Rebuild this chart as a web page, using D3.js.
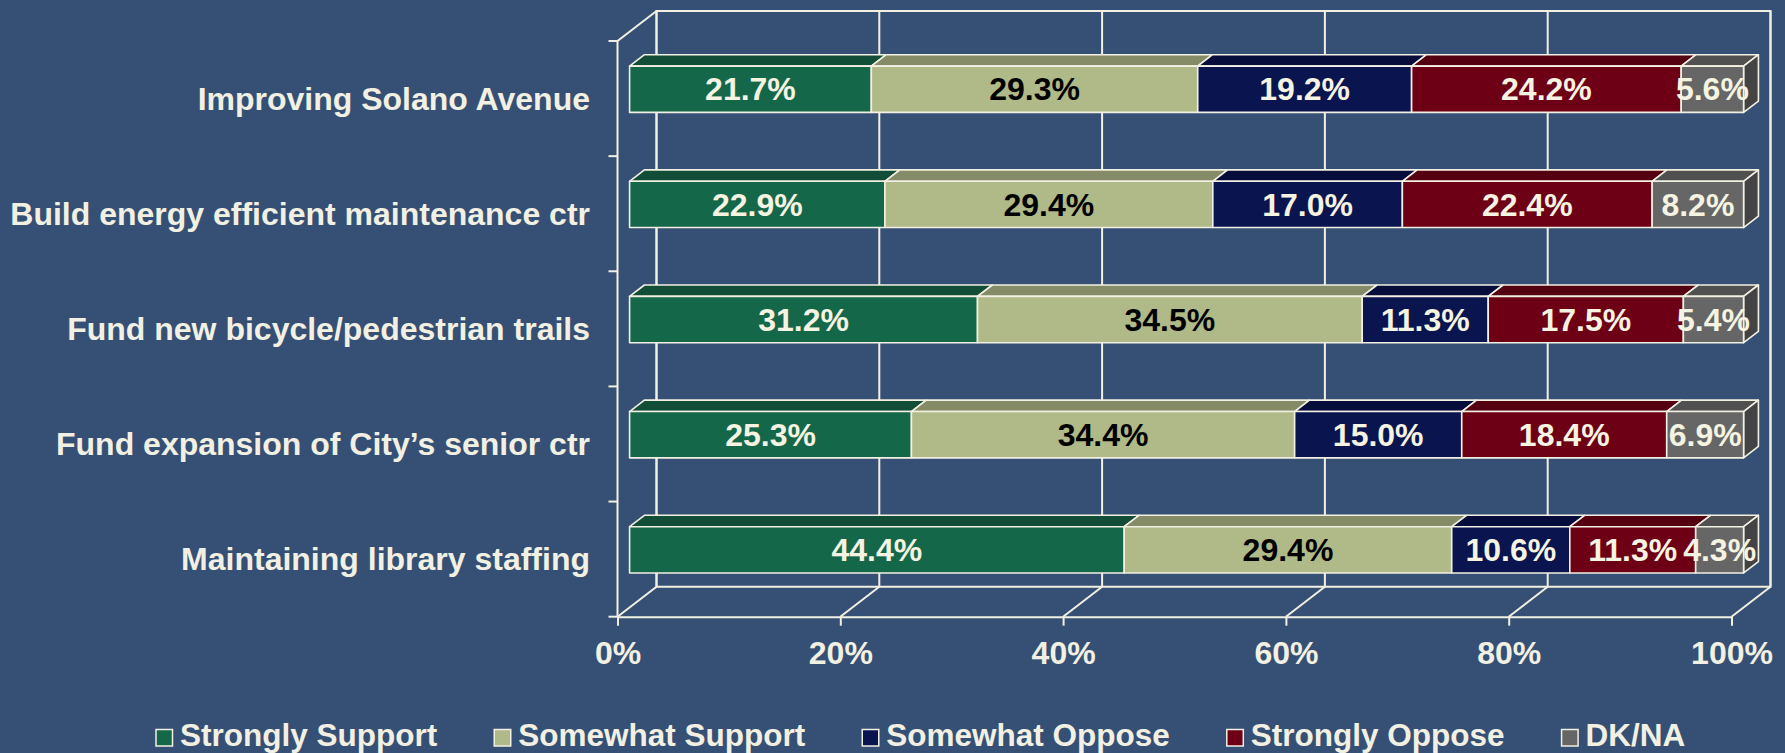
<!DOCTYPE html>
<html>
<head>
<meta charset="utf-8">
<script src="https://cdn.jsdelivr.net/npm/d3@7"></script>
<style>
  html, body { margin: 0; padding: 0; background: #365075; }
  svg { display: block; }
  text { font-family: "Liberation Sans", Arial, sans-serif; font-weight: bold; }
</style>
</head>
<body>
<svg id="chart" width="1785" height="753"></svg>
<script>
// Survey items (top to bottom)
const categories = [
  "Improving Solano Avenue",
  "Build energy efficient maintenance ctr",
  "Fund new bicycle/pedestrian trails",
  "Fund expansion of City\u2019s senior ctr",
  "Maintaining library staffing"
];
const seriesNames = ["Strongly Support", "Somewhat Support", "Somewhat Oppose", "Strongly Oppose", "DK/NA"];
// Percent of respondents per answer, one value per item
const stronglySupport = [21.7, 22.9, 31.2, 25.3, 44.4];
const somewhatSupport = [29.3, 29.4, 34.5, 34.4, 29.4];
const somewhatOppose  = [19.2, 17.0, 11.3, 15.0, 10.6];
const stronglyOppose  = [24.2, 22.4, 17.5, 18.4, 11.3];
const dkNa            = [5.6, 8.2, 5.4, 6.9, 4.3];
const tickValues = [0, 0.2, 0.4, 0.6, 0.8, 1];

const series = [stronglySupport, somewhatSupport, somewhatOppose, stronglyOppose, dkNa];
const frontColors = ["#15674a", "#afba88", "#0a144f", "#6e0016", "#666666"];
const topColors   = ["#124e37", "#858b66", "#070d3a", "#550011", "#505050"];
const sideColor   = "#434343";
const labelColors = ["#f5f3e1", "#000000", "#f5f3e1", "#f5f3e1", "#f5f3e1"];
const cream = "#f2f0e2";
const fontSize = 32;
const legendFontSize = 31.5;

const svg = d3.select("#chart");

// 3D projection: value along x, category band along y, depth z in [0,1]
const x = d3.scaleLinear().domain([0, 1]).range([617.5, 1731.5]);
const y = d3.scaleBand().domain(categories).range([41, 616.7])
  .paddingInner(0.598).paddingOuter(0.299);
const DX = 39, DY = -30;
const zFront = 0.31, zBack = 0.69;
const yTopAxis = y.range()[0], yBottomAxis = y.range()[1];
const P = (v, yy, z) => [x(v) + DX * z, yy + DY * z];
const poly = pts => "M" + pts.map(p => p.join(",")).join("L") + "Z";

// Walls and gridlines
const grid = svg.append("g")
  .attr("fill", "none").attr("stroke", cream).attr("stroke-width", 2);
// back wall outline
grid.append("path").attr("d", poly([
  P(0, yTopAxis, 1), P(1, yTopAxis, 1), P(1, yBottomAxis, 1), P(0, yBottomAxis, 1)
]));
// vertical gridlines on back wall + floor diagonals
tickValues.forEach(t => {
  grid.append("line")
    .attr("x1", P(t, yTopAxis, 1)[0]).attr("y1", P(t, yTopAxis, 1)[1])
    .attr("x2", P(t, yBottomAxis, 1)[0]).attr("y2", P(t, yBottomAxis, 1)[1]);
  grid.append("line")
    .attr("x1", P(t, yBottomAxis, 0)[0]).attr("y1", P(t, yBottomAxis, 0)[1])
    .attr("x2", P(t, yBottomAxis, 1)[0]).attr("y2", P(t, yBottomAxis, 1)[1]);
});
// left wall front edge and top diagonal
grid.append("line")
  .attr("x1", x(0)).attr("y1", yTopAxis).attr("x2", x(0)).attr("y2", yBottomAxis);
grid.append("line")
  .attr("x1", P(0, yTopAxis, 0)[0]).attr("y1", P(0, yTopAxis, 0)[1])
  .attr("x2", P(0, yTopAxis, 1)[0]).attr("y2", P(0, yTopAxis, 1)[1]);

// Category ticks at band boundaries
const step = y.step();
const boundaries = d3.range(categories.length + 1).map(i => yTopAxis + i * step);
grid.selectAll(".ctick").data(boundaries).join("line")
  .attr("x1", x(0) - 9).attr("x2", x(0)).attr("y1", d => d).attr("y2", d => d);

// Value axis on the floor front edge
const xAxis = svg.append("g")
  .attr("transform", `translate(0,${yBottomAxis})`)
  .call(d3.axisBottom(x).tickValues(tickValues).tickFormat(d3.format(".0%"))
    .tickSize(9).tickSizeOuter(0).tickPadding(16));
xAxis.select(".domain").attr("stroke", cream).attr("stroke-width", 2);
xAxis.selectAll(".tick line").attr("stroke", cream).attr("stroke-width", 2);
xAxis.selectAll(".tick text")
  .attr("fill", cream).attr("font-size", fontSize)
  .attr("font-family", "'Liberation Sans', Arial, sans-serif").attr("font-weight", "bold");

// Category labels
svg.append("g").selectAll("text").data(categories).join("text")
  .attr("x", 590)
  .attr("y", d => y(d) + y.bandwidth() / 2)
  .attr("dy", "0.35em")
  .attr("text-anchor", "end")
  .attr("fill", cream)
  .attr("font-size", fontSize)
  .text(d => d);

// Stacked 3D bars (100% stacked)
const bars = svg.append("g").attr("stroke", cream).attr("stroke-width", 1.6)
  .attr("stroke-linejoin", "round");
const labels = [];
categories.forEach((cat, i) => {
  const vals = series.map(s => s[i]);
  const total = d3.sum(vals);
  const yt = y(cat), yb = yt + y.bandwidth();
  let acc = 0;
  vals.forEach((v, j) => {
    const v0 = acc / total, v1 = (acc + v) / total;
    acc += v;
    bars.append("path").attr("fill", topColors[j])
      .attr("d", poly([P(v0, yt, zFront), P(v1, yt, zFront), P(v1, yt, zBack), P(v0, yt, zBack)]));
    if (j === vals.length - 1) {
      bars.append("path").attr("fill", sideColor)
        .attr("d", poly([P(v1, yt, zFront), P(v1, yt, zBack), P(v1, yb, zBack), P(v1, yb, zFront)]));
    }
    const a = P(v0, yt, zFront), b = P(v1, yb, zFront);
    bars.append("rect").attr("fill", frontColors[j])
      .attr("x", a[0]).attr("y", a[1]).attr("width", b[0] - a[0]).attr("height", b[1] - a[1]);
    labels.push({ x: (a[0] + b[0]) / 2, y: (a[1] + b[1]) / 2, text: d3.format(".1f")(v) + "%", color: labelColors[j] });
  });
});

// Data labels on top of all bars
svg.append("g").selectAll("text").data(labels).join("text")
  .attr("x", d => d.x).attr("y", d => d.y).attr("dy", "0.35em")
  .attr("text-anchor", "middle")
  .attr("fill", d => d.color)
  .attr("font-size", fontSize)
  .text(d => d.text);

// Legend
const legend = svg.append("g").attr("transform", "translate(156,0)");
let lx = 0;
seriesNames.forEach((name, j) => {
  const g = legend.append("g").attr("transform", `translate(${lx},0)`);
  g.append("rect").attr("x", 0).attr("y", 729.5).attr("width", 16.5).attr("height", 16.5)
    .attr("fill", frontColors[j]).attr("stroke", cream).attr("stroke-width", 1.5);
  const t = g.append("text").attr("x", 24).attr("y", 746)
    .attr("fill", cream).attr("font-size", legendFontSize).text(name);
  lx += 24 + t.node().getComputedTextLength() + 57;
});
</script>
</body>
</html>
